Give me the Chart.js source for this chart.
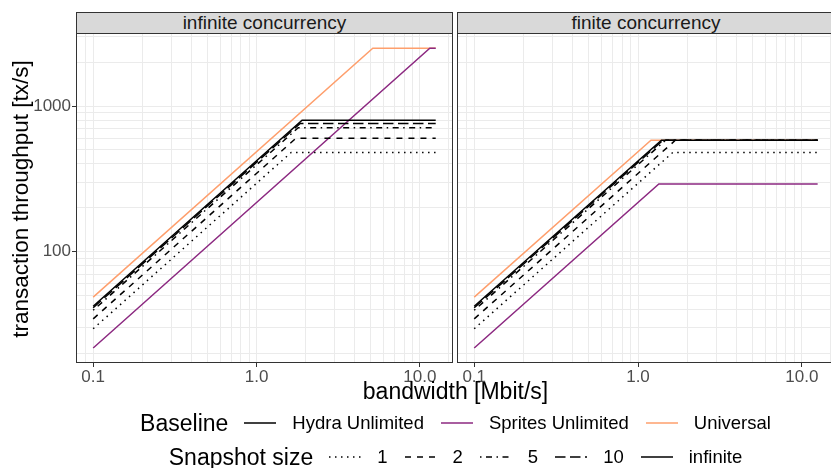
<!DOCTYPE html>
<html>
<head>
<meta charset="utf-8">
<script src="https://cdn.jsdelivr.net/npm/chart.js@4.4.0/dist/chart.umd.min.js"></script>
<style>
  html, body { margin: 0; padding: 0; background: #fff; overflow: hidden; }
  body { font-family: "Liberation Sans", Arial, sans-serif; }
  #wrap { position: relative; width: 835px; height: 468px; overflow: hidden; }
  canvas { position: absolute; }
  .strip {
    position: absolute; top: 12px; height: 22px; box-sizing: border-box;
    background: #d9d9d9; border: 1px solid #333; color: #1a1a1a;
    font-size: 19px; line-height: 20px; text-align: center;
  }
  .ytitle {
    position: absolute; left: -179px; top: 186px; width: 400px; height: 26px;
    font-size: 22.5px; line-height: 26px; text-align: center; transform: rotate(-90deg);
  }
  .xtitle {
    position: absolute; left: 76px; width: 759px; top: 378px;
    font-size: 23px; line-height: 26px; text-align: center;
  }
  .row {
    position: absolute; left: 76px; width: 759px; height: 26px;
    display: flex; justify-content: center; align-items: center;
  }
  .row .title { font-size: 23px; margin-right: 16px; }
  .row svg { margin-right: 16px; }
  .row .lab { font-size: 18.5px; margin-right: 17px; }
  .row .lab:last-child { margin-right: 0; }
</style>
</head>
<body>
<div id="wrap">
  <div class="strip" id="strip0" style="left:76px;width:377px;"></div>
  <div class="strip" id="strip1" style="left:457px;width:378px;"></div>
  <canvas id="left" width="453" height="360" style="left:0;top:33px;"></canvas>
  <canvas id="right" width="378" height="360" style="left:457px;top:33px;"></canvas>
  <div class="ytitle">transaction throughput [tx/s]</div>
  <div class="xtitle">bandwidth [Mbit/s]</div>
  <div class="row" id="legend1" style="top:410px;"></div>
  <div class="row" id="legend2" style="top:444px;"></div>
</div>
<script>
const panels = ['infinite concurrency', 'finite concurrency'];
const baselines = ['Hydra Unlimited', 'Sprites Unlimited', 'Universal'];
const snapshotSizes = ['1', '2', '5', '10', 'infinite'];

// [bandwidth Mbit/s, throughput tx/s] break points
// infinite concurrency
const infHydra1 = [[0.1, 29.4], [1.63, 480], [12.5, 480]];
const infHydra2 = [[0.1, 34.4], [1.74, 600], [12.5, 600]];
const infHydra5 = [[0.1, 39.4], [1.8, 710], [12.5, 710]];
const infHydra10 = [[0.1, 41], [1.85, 760], [12.5, 760]];
const infHydraInf = [[0.1, 42], [1.9, 800], [12.5, 800]];
const infSprites = [[0.1, 21.7], [11.5, 2500], [12.5, 2500]];
const infUniversal = [[0.1, 48.5], [5.15, 2500], [12.5, 2500]];
// finite concurrency
const finHydra1 = [[0.1, 29.4], [1.63, 480], [12.5, 480]];
const finHydra2 = [[0.1, 34.4], [1.69, 582], [12.5, 582]];
const finHydra5 = [[0.1, 39.4], [1.47, 582], [12.5, 582]];
const finHydra10 = [[0.1, 41], [1.42, 582], [12.5, 582]];
const finHydraInf = [[0.1, 42], [1.39, 582], [12.5, 582]];
const finSprites = [[0.1, 21.7], [1.34, 291], [12.5, 291]];
const finUniversal = [[0.1, 48.5], [1.2, 582], [12.5, 582]];

const xGrid = [0.09, 0.1, 0.2, 0.3, 0.4, 0.5, 0.6, 0.7, 0.8, 0.9, 1, 2, 3, 4, 5, 6, 7, 8, 9, 10, 15];
const yGrid = [20, 30, 40, 50, 60, 70, 80, 90, 100, 200, 300, 400, 500, 600, 700, 800, 900, 1000, 2000, 3000];
const xMajor = [0.1, 1, 10];
const xTickLabels = ['0.1', '1.0', '10.0'];
const yMajor = [100, 1000];
const yTickLabels = ['100', '1000'];

const colors = ['#000000', '#8c2981', '#fe9f6d'];
const dashes = [[1.5, 4.5], [6, 6], [1.5, 4.5, 6, 4.5], [10.5, 4.5], []];

Chart.defaults.font.family = '"Liberation Sans", Arial, sans-serif';

document.getElementById('strip0').textContent = panels[0];
document.getElementById('strip1').textContent = panels[1];

function ds(label, pts, color, dash) {
  return {
    label: label,
    data: pts.map(p => ({x: p[0], y: p[1]})),
    borderColor: color,
    borderWidth: 1.5,
    borderDash: dash,
    pointRadius: 0,
    fill: false,
    tension: 0
  };
}

const panelBorder = {
  id: 'panelBorder',
  afterDraw(chart) {
    const a = chart.chartArea, c = chart.ctx;
    c.save();
    c.strokeStyle = '#333';
    c.lineWidth = 1;
    c.strokeRect(a.left + 0.5, a.top + 0.5, a.right - a.left - 1, a.bottom - a.top - 1);
    c.restore();
  }
};

function noPad(s) {
  s.paddingTop = 0; s.paddingBottom = 0; s.paddingLeft = 0; s.paddingRight = 0;
}

function makeChart(id, sets, showY) {
  const hydra = sets.slice(0, 5).map((p, i) => ds(baselines[0] + ' ' + snapshotSizes[i], p, colors[0], dashes[i]));
  new Chart(document.getElementById(id), {
    type: 'line',
    data: {
      datasets: hydra.concat([
        ds(baselines[1], sets[5], colors[1], []),
        ds(baselines[2], sets[6], colors[2], [])
      ])
    },
    options: {
      responsive: false,
      animation: false,
      layout: { padding: 0 },
      plugins: { legend: { display: false }, tooltip: { enabled: false } },
      scales: {
        x: {
          type: 'logarithmic',
          min: 0.0785,
          max: 15.95,
          afterFit: s => { s.height = 30; noPad(s); },
          afterBuildTicks: s => { s.ticks = xGrid.map(v => ({value: v})); },
          grid: {
            color: '#ebebeb',
            lineWidth: 1,
            tickLength: 4,
            tickColor: c => xMajor.includes(c.tick.value) ? '#333' : 'rgba(0,0,0,0)'
          },
          border: { display: false },
          ticks: {
            autoSkip: false,
            maxRotation: 0,
            padding: 0,
            color: '#4d4d4d',
            font: { size: 17 },
            callback: v => { const i = xMajor.indexOf(v); return i < 0 ? '' : xTickLabels[i]; }
          }
        },
        y: {
          type: 'logarithmic',
          min: 17.1,
          max: 3184,
          afterFit: s => { s.width = showY ? 76 : 0; noPad(s); },
          afterBuildTicks: s => { s.ticks = yGrid.map(v => ({value: v})); },
          grid: {
            color: '#ebebeb',
            lineWidth: 1,
            drawTicks: showY,
            tickLength: 4,
            tickColor: c => yMajor.includes(c.tick.value) ? '#333' : 'rgba(0,0,0,0)'
          },
          border: { display: false },
          ticks: {
            display: showY,
            autoSkip: false,
            padding: 1,
            color: '#4d4d4d',
            font: { size: 17 },
            callback: v => { const i = yMajor.indexOf(v); return i < 0 ? '' : yTickLabels[i]; }
          }
        }
      }
    },
    plugins: [panelBorder]
  });
}

makeChart('left', [infHydra1, infHydra2, infHydra5, infHydra10, infHydraInf, infSprites, infUniversal], true);
makeChart('right', [finHydra1, finHydra2, finHydra5, finHydra10, finHydraInf, finSprites, finUniversal], false);

// legends
function keySvg(color, dash) {
  return '<svg width="32" height="10"><line x1="0" y1="5" x2="32" y2="5" stroke="' + color +
    '" stroke-width="1.5"' + (dash.length ? ' stroke-dasharray="' + dash.join(' ') + '"' : '') + '/></svg>';
}
let h1 = '<span class="title">Baseline</span>';
baselines.forEach((b, i) => { h1 += keySvg(colors[i], []) + '<span class="lab">' + b + '</span>'; });
document.getElementById('legend1').innerHTML = h1;
let h2 = '<span class="title">Snapshot size</span>';
snapshotSizes.forEach((s, i) => { h2 += keySvg('#000', dashes[i]) + '<span class="lab">' + s + '</span>'; });
document.getElementById('legend2').innerHTML = h2;
</script>
</body>
</html>
